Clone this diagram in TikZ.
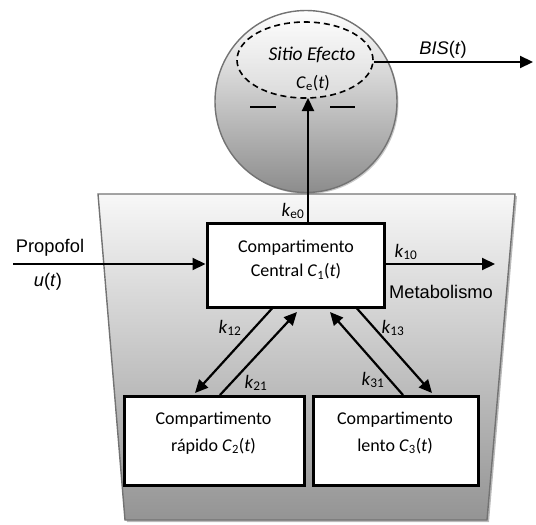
\documentclass[tikz,border=0pt]{standalone}
\usepackage{fontspec}
\setmainfont{Carlito}
\newfontfamily\arialf{Liberation Sans}
\usetikzlibrary{arrows.meta,shadows,shapes.geometric,calc}
\tikzset{
  box/.style={draw=black,line width=3pt,fill=white,minimum width=#1,minimum height=89pt,inner sep=0pt},
  arr/.style={line width=2.2pt,-{Triangle[length=13pt,width=12pt]}},
  txt/.style={font=\fontsize{18}{24}\selectfont,inner sep=0pt,align=center},
  atxt/.style={font=\arialf\fontsize{18.3}{20}\selectfont,inner sep=0pt},
  klab/.style={font=\fontsize{19}{20}\selectfont,inner sep=0pt},
}
\begin{document}
\begin{tikzpicture}[x=1pt,y=-1pt]
\useasboundingbox (0,0) rectangle (536,525);
% trapezoid body
\path[draw=black!55,line width=1.4pt,top color=black!3,bottom color=black!42,
  drop shadow={shadow xshift=2pt,shadow yshift=-2pt,opacity=0.45,fill=black!60}]
  (98,194) -- (515,194) -- (487,520) -- (125,520) -- cycle;
% sphere
\path[draw=black!55,line width=1.4pt,top color=white,bottom color=black!45,
  drop shadow={shadow xshift=1.5pt,shadow yshift=-1.5pt,opacity=0.35,fill=black!60}]
  (306,101.5) circle (91);
\node[ellipse,draw=black,dash pattern=on 6pt off 4pt,line width=1.6pt,fill=white,fill opacity=0.35,minimum width=136pt,minimum height=76pt,inner sep=0pt] (ce) at (305,60) {};
\node[txt,font=\itshape\fontsize{19.5}{20}\selectfont] (sitio) at (312,55) {Sitio Efecto};
\node[txt] (cet) at (313,83) {\textit{C}\textsubscript{e}(\textit{t})};
\draw[line width=1.6pt] (250,107) -- (276,107);
\draw[line width=1.6pt] (330,107) -- (355,107);
% boxes
\node[box=177pt,minimum height=84pt] (c1) at (295.5,265) {};
\node[txt] (c1t) at (296,260) {Compartimento\\Central \textit{C}\textsubscript{1}(\textit{t})};
\node[box=180pt] (c2) at (214,441) {};
\node[txt,font=\fontsize{18}{27}\selectfont] (c2t) at (213.5,433) {Compartimento\\rápido \textit{C}\textsubscript{2}(\textit{t})};
\node[box=165pt] (c3) at (395.5,441) {};
\node[txt,font=\fontsize{18}{27}\selectfont] (c3t) at (395,433) {Compartimento\\lento \textit{C}\textsubscript{3}(\textit{t})};
% connectors
\coordinate (ketop) at (308,98);
\coordinate (ke) at (c1.north -| ketop);
\draw[arr] (ke) -- (ketop);
\node[klab] (ke0) at (293,211) {\textit{k}\textsubscript{e0}};
\coordinate (bisend) at (533,62);
\draw[arr] (ce.east |- bisend) -- (bisend);
\node[atxt] (bis) at (443,50) {\textit{BIS}(\textit{t})};
\coordinate (pin) at (13,264);
\draw[arr] (pin) -- (c1.west |- pin);
\node[atxt] (prop) at (50,248) {Propofol};
\node[atxt] (ut) at (48,282) {\textit{u}(\textit{t})};
\coordinate (mout) at (495,264);
\draw[arr] (c1.east |- mout) -- (mout);
\node[klab] (k10) at (406,252) {\textit{k}\textsubscript{10}};
\node[atxt] (meta) at (441,292) {Metabolismo};
% exchange arrows
\draw[arr] (c1.south west -| 272,0) -- (195,393);
\draw[arr] (c2.north west -| 220,0) -- (297,312);
\draw[arr] (c3.north west -| 403,0) -- (330,312);
\draw[arr] (c1.south west -| 357,0) -- (432,393);
\node[klab] (k12) at (230,328) {\textit{k}\textsubscript{12}};
\node[klab] (k21) at (256,383) {\textit{k}\textsubscript{21}};
\node[klab] (k31) at (373,380) {\textit{k}\textsubscript{31}};
\node[klab] (k13) at (393,328) {\textit{k}\textsubscript{13}};
\end{tikzpicture}
\end{document}
